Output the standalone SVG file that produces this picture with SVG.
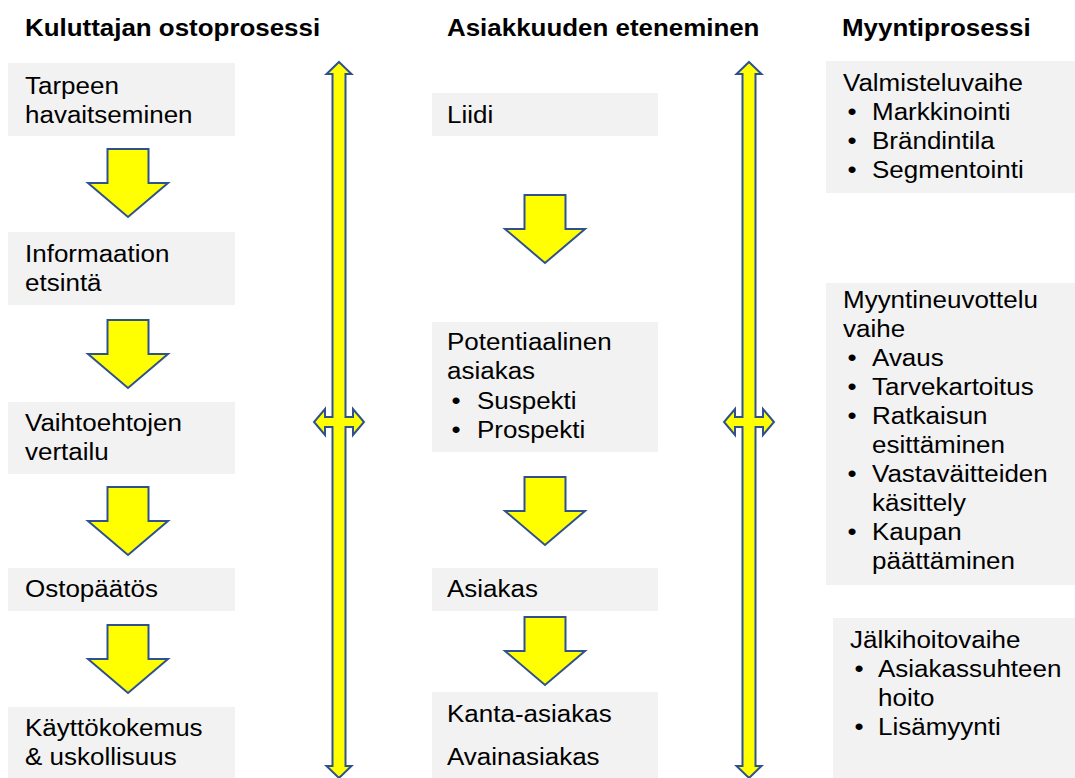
<svg xmlns="http://www.w3.org/2000/svg" width="1075" height="778" viewBox="0 0 1075 778">
<style>
.box{fill:#f2f2f2;stroke:none}
.t{font-family:"Liberation Sans",Arial,sans-serif;font-size:23px;fill:#000}
.h{font-family:"Liberation Sans",Arial,sans-serif;font-size:24px;font-weight:bold;fill:#000}
.arr{fill:#ffff00;stroke:#2f528f;stroke-width:2;stroke-linejoin:miter}
</style>
<defs>
<path id="down" class="arr" d="M-20.5,0 L20.5,0 L20.5,34 L40,34 L0,68 L-40,34 L-20.5,34 Z"/>
<path id="dbl" class="arr" d="M0,62 L12.5,74 L6.5,74 L6.5,417 L14,417 L14,409 L25,422 L14,435 L14,427 L6.5,427 L6.5,766 L12.5,766 L0,778 L-12.5,766 L-6.5,766 L-6.5,427 L-14,427 L-14,435 L-25,422 L-14,409 L-14,417 L-6.5,417 L-6.5,74 L-12.5,74 Z"/>
</defs>
<rect width="1075" height="778" fill="#fff"/>

<g id="headings">
<text class="h" transform="translate(25,36) scale(1.08,1)">Kuluttajan ostoprosessi</text>
<text class="h" transform="translate(447,36) scale(1.08,1)">Asiakkuuden eteneminen</text>
<text class="h" transform="translate(842,36) scale(1.08,1)">Myyntiprosessi</text>
</g>

<!-- Left column -->
<g id="n-tarpeen">
<rect class="box" x="8" y="63" width="227" height="73"/>
<g transform="translate(25,0) scale(1.13,1)"><text class="t" x="0" y="94">Tarpeen</text><text class="t" x="0" y="123">havaitseminen</text></g>
</g>
<g id="n-informaation">
<rect class="box" x="8" y="232" width="227" height="73"/>
<g transform="translate(25,0) scale(1.13,1)"><text class="t" x="0" y="262">Informaation</text><text class="t" x="0" y="291">etsintä</text></g>
</g>
<g id="n-vaihtoehtojen">
<rect class="box" x="8" y="402" width="227" height="72"/>
<g transform="translate(25,0) scale(1.13,1)"><text class="t" x="0" y="431">Vaihtoehtojen</text><text class="t" x="0" y="460">vertailu</text></g>
</g>
<g id="n-ostopaatos">
<rect class="box" x="8" y="568" width="227" height="43"/>
<g transform="translate(25,0) scale(1.13,1)"><text class="t" x="0" y="597">Ostopäätös</text></g>
</g>
<g id="n-kayttokokemus">
<rect class="box" x="8" y="707" width="227" height="71"/>
<g transform="translate(25,0) scale(1.13,1)"><text class="t" x="0" y="736">Käyttökokemus</text><text class="t" x="0" y="765">&amp; uskollisuus</text></g>
</g>

<!-- Middle column -->
<g id="n-liidi">
<rect class="box" x="432" y="93" width="226" height="43"/>
<g transform="translate(447,0) scale(1.13,1)"><text class="t" x="0" y="123">Liidi</text></g>
</g>
<g id="n-potentiaalinen">
<rect class="box" x="432" y="322" width="226" height="130"/>
<g transform="translate(447,0) scale(1.13,1)">
<text class="t" x="0" y="350">Potentiaalinen</text>
<text class="t" x="0" y="379">asiakas</text>
<text class="t" x="4" y="409">•</text><text class="t" x="26.5" y="409">Suspekti</text>
<text class="t" x="4" y="438">•</text><text class="t" x="26.5" y="438">Prospekti</text>
</g>
</g>
<g id="n-asiakas">
<rect class="box" x="432" y="568" width="226" height="43"/>
<g transform="translate(447,0) scale(1.13,1)"><text class="t" x="0" y="597">Asiakas</text></g>
</g>
<g id="n-kanta">
<rect class="box" x="432" y="692" width="226" height="86"/>
<g transform="translate(447,0) scale(1.13,1)"><text class="t" x="0" y="722">Kanta-asiakas</text><text class="t" x="0" y="765">Avainasiakas</text></g>
</g>

<!-- Right column -->
<g id="n-valmistelu">
<rect class="box" x="826" y="61" width="249" height="132"/>
<g transform="translate(843,0) scale(1.13,1)">
<text class="t" x="0" y="91">Valmisteluvaihe</text>
<text class="t" x="4" y="120">•</text><text class="t" x="25.7" y="120">Markkinointi</text>
<text class="t" x="4" y="149">•</text><text class="t" x="25.7" y="149">Brändintila</text>
<text class="t" x="4" y="178">•</text><text class="t" x="25.7" y="178">Segmentointi</text>
</g>
</g>
<g id="n-myyntineuvottelu">
<rect class="box" x="826" y="283" width="249" height="302"/>
<g transform="translate(843,0) scale(1.13,1)">
<text class="t" x="0" y="308">Myyntineuvottelu</text>
<text class="t" x="0" y="337">vaihe</text>
<text class="t" x="4" y="366">•</text><text class="t" x="25.7" y="366">Avaus</text>
<text class="t" x="4" y="395">•</text><text class="t" x="25.7" y="395">Tarvekartoitus</text>
<text class="t" x="4" y="424">•</text><text class="t" x="25.7" y="424">Ratkaisun</text>
<text class="t" x="25.7" y="453">esittäminen</text>
<text class="t" x="4" y="482">•</text><text class="t" x="25.7" y="482">Vastaväitteiden</text>
<text class="t" x="25.7" y="511">käsittely</text>
<text class="t" x="4" y="540">•</text><text class="t" x="25.7" y="540">Kaupan</text>
<text class="t" x="25.7" y="569">päättäminen</text>
</g>
</g>
<g id="n-jalkihoito">
<rect class="box" x="833" y="618" width="242" height="160"/>
<g transform="translate(850,0) scale(1.13,1)">
<text class="t" x="0" y="648">Jälkihoitovaihe</text>
<text class="t" x="4" y="677">•</text><text class="t" x="24.8" y="677">Asiakassuhteen</text>
<text class="t" x="24.8" y="706">hoito</text>
<text class="t" x="4" y="735">•</text><text class="t" x="24.8" y="735">Lisämyynti</text>
</g>
</g>

<g id="connectors">
<use href="#down" x="128" y="149"/>
<use href="#down" x="128" y="320"/>
<use href="#down" x="128" y="487"/>
<use href="#down" x="128" y="625"/>
<use href="#down" x="545" y="195"/>
<use href="#down" x="545" y="477"/>
<use href="#down" x="545" y="617"/>
<use href="#dbl" x="339" y="0"/>
<use href="#dbl" x="749" y="0"/>
</g>
</svg>
